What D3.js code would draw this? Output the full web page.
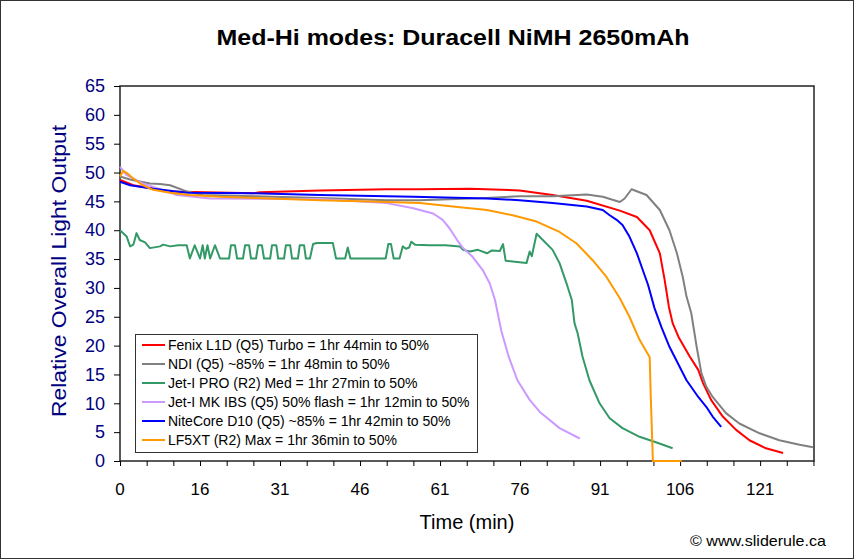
<!DOCTYPE html>
<html><head><meta charset="utf-8">
<script src="https://cdn.jsdelivr.net/npm/d3@7"></script>
<style>body{margin:0;background:#fff}svg{display:block;font-family:Arial,"Liberation Sans",sans-serif}</style>
</head><body><svg id="c" width="855" height="560"></svg>
<script>
const title = "Med-Hi modes: Duracell NiMH 2650mAh";
const xTitle = "Time (min)";
const yTitle = "Relative Overall Light Output";
const credit = "© www.sliderule.ca";
const xTickValues = [0, 15, 30, 45, 60, 75, 90, 105, 120];
const xTickLabels = ["0", "16", "31", "46", "61", "76", "91", "106", "121"];
const yTickValues = [0, 5, 10, 15, 20, 25, 30, 35, 40, 45, 50, 55, 60, 65];

const seriesNames = [
  "Fenix L1D (Q5) Turbo = 1hr 44min to 50%",
  "NDI (Q5) ~85% = 1hr 48min to 50%",
  "Jet-I PRO (R2) Med = 1hr 27min to 50%",
  "Jet-I MK IBS (Q5) 50% flash = 1hr 12min to 50%",
  "NiteCore D10 (Q5) ~85% = 1hr 42min to 50%",
  "LF5XT (R2) Max = 1hr 36min to 50%"
];
const seriesColors = ["#ff0000", "#808080", "#339966", "#cc99ff", "#0000ff", "#ff9900"];

const fenix = [[0,48.7],[2.5,47.8],[9.4,46.7],[25,46.4],[26.2,46.6],[37.5,46.9],[50,47.1],[56.2,47.1],[65.6,47.2],[74.9,46.9],[81.1,46.1],[87.5,45.1],[93.7,43.4],[96.9,42.3],[99.3,40.0],[101.2,36.0],[102.1,31.4],[102.9,26.7],[103.6,23.9],[104.7,21.5],[106.8,18.1],[108.4,15.8],[109.3,13.5],[110.8,10.6],[113.0,7.7],[115.5,5.4],[118.0,3.6],[121.1,2.2],[124.3,1.4]];
const ndi = [[0,49.3],[1.9,48.8],[5.6,48.1],[7.5,48.0],[9.4,47.8],[12.6,46.7],[15.6,46.1],[25,45.9],[37.5,45.6],[50,45.2],[56.2,45.2],[68.7,45.6],[74.9,45.9],[81.1,45.9],[87.5,46.2],[90.5,45.8],[93.7,44.9],[94.6,45.5],[95.9,47.1],[98.7,46.1],[101.2,43.5],[103.0,40.0],[104.4,36.0],[105.5,31.9],[106.2,28.5],[107.1,25.6],[108.1,19.8],[109.0,15.2],[109.9,12.9],[111.1,11.1],[113.6,8.3],[116.1,6.5],[119.9,4.8],[123.6,3.6],[127.4,2.8],[129.9,2.4]];
const jetPro = [[0,40.0],[1.25,38.9],[1.9,37.2],[2.5,37.5],[3.1,39.5],[3.7,38.3],[4.7,37.9],[5.6,36.9],[7.5,37.2],[8.1,37.5],[9.4,37.2],[10.9,37.4],[12.5,37.4],[13.1,35.1],[14.0,37.4],[15.0,35.1],[15.5,37.4],[15.9,35.1],[16.4,37.4],[16.9,35.1],[17.8,37.4],[18.75,35.1],
  [20.45,35.1],[20.8,37.4],[21.55,37.4],[21.95,35.1],[23.05,35.1],[23.45,37.4],[24.2,37.4],[24.55,35.1],[25.5,35.1],[25.9,37.4],[26.6,37.4],[27.0,35.1],[28.15,35.1],[28.5,37.4],[29.3,37.4],[29.65,35.1],[30.75,35.1],[31.1,37.4],[31.9,37.4],[32.25,35.1],[33.35,35.1],[33.7,37.4],[34.5,37.4],[34.85,35.1],
  [35.6,35.1],[36.2,37.6],[36.9,37.8],[39.9,37.8],[40.5,35.1],[42.2,35.1],[42.7,37.0],[43.2,35.1],[49.8,35.1],[50.3,37.6],[50.8,37.6],[51.3,35.1],[52.4,35.1],[53.0,37.2],[53.6,36.8],[54.2,37.0],[54.6,38.0],[55.3,37.5],[58,37.4],[61,37.4],[63.7,37.2],[64.3,36.6],[65.6,36.3],[67.1,36.6],[68.8,36.0],[69.7,36.5],[71.2,36.4],[71.8,37.6],[72.3,34.7],[76.2,34.3],[76.8,36.3],[77.2,35.5],[78.1,39.4],[81.1,36.6],[82.4,34.3],[83.7,30.8],[84.7,27.9],[85.2,23.9],[85.8,22.1],[86.7,18.1],[88.0,14.0],[89.9,10.0],[91.8,7.4],[94.2,5.7],[97.4,4.2],[100.6,3.2],[103.6,2.2]];
const jetMk = [[0,51.0],[1.2,49.6],[4.3,48.1],[10.7,46.1],[16.9,45.5],[37.5,45.4],[50,44.7],[55,43.8],[56.2,43.5],[58.7,42.9],[60.5,41.8],[61.8,40.3],[63.2,38.3],[64.3,36.9],[66.1,35.4],[68.0,33.1],[69.3,30.8],[70.3,27.9],[71.5,22.5],[72.9,18.0],[74.5,14.0],[76.8,10.6],[78.7,8.5],[82.4,5.7],[86.2,3.9]];
const nitecore = [[0,48.4],[1.9,47.8],[6.2,47.2],[12.6,46.5],[25,46.4],[37.5,46.1],[55,45.8],[68.8,45.5],[74.9,45.2],[81.1,44.7],[87.5,44.1],[90.5,43.5],[91.8,42.6],[93.1,41.8],[94.2,40.9],[95.5,38.9],[96.9,36.0],[98.0,33.1],[99.0,30.5],[100.2,26.5],[101.5,23.2],[103.0,19.8],[104.6,16.9],[106.2,14.0],[108.4,11.1],[109.9,9.4],[111.1,7.7],[112.7,5.9]];
const lf5xt = [[0,49.3],[0.6,50.3],[1.3,49.9],[2.4,49.0],[4.3,47.8],[6.2,47.0],[9.4,46.5],[13.1,46.1],[18.7,45.8],[28.1,45.5],[37.5,45.2],[46.8,45.0],[56.2,44.7],[62.4,44.1],[68.8,43.5],[73.6,42.6],[78.1,41.5],[82.4,39.7],[85.6,37.7],[88.6,34.8],[91.2,31.9],[93.7,28.2],[95.5,25.0],[97.4,21.0],[99.3,18.0],[99.5,11.1],[99.9,0],[105.3,0]];
const seriesData = [fenix, ndi, jetPro, jetMk, nitecore, lf5xt];

const svg = d3.select("#c");
const L = 120, R = 814, T = 86, B = 461;
const x = d3.scaleLinear().domain([0, 130.1]).range([L, R]);
const y = d3.scaleLinear().domain([0, 65]).range([B, T]);

svg.append("rect").attr("x",0.5).attr("y",0.5).attr("width",853).attr("height",558)
  .attr("fill","#fff").attr("stroke","#333");

svg.append("text").attr("x",453).attr("y",45).attr("text-anchor","middle")
  .attr("font-size",22).attr("font-weight","bold").attr("textLength",473).attr("lengthAdjust","spacingAndGlyphs").text(title);

// frame
svg.append("rect").attr("x",L).attr("y",T).attr("width",R-L).attr("height",B-T)
  .attr("fill","#fff").attr("stroke","#222").attr("stroke-width",1.5);

// y axis
const ya = svg.append("g").attr("transform",`translate(${L},0)`)
  .call(d3.axisLeft(y).tickValues(yTickValues).tickSize(6).tickPadding(9).tickSizeOuter(0));
ya.select(".domain").remove();
ya.selectAll("line").attr("stroke","#000");
ya.selectAll("text").attr("fill","#000080").attr("font-size",18).attr("font-family","Arial,'Liberation Sans',sans-serif");

// x axis
const xa = svg.append("g").attr("transform",`translate(0,${B})`)
  .call(d3.axisBottom(x).tickValues(d3.range(0,131,5)).tickSize(5).tickFormat(""));
xa.select(".domain").remove();
xa.selectAll("line").attr("stroke","#000");
svg.append("g").selectAll("text").data(xTickValues).join("text")
  .attr("x",d=>x(d)).attr("y",495).attr("text-anchor","middle").attr("font-size",17)
  .text((d,i)=>xTickLabels[i]);

const line = d3.line().x(d=>x(d[0])).y(d=>y(d[1]));
svg.append("g").attr("fill","none").attr("stroke-width",2).attr("stroke-linejoin","round")
  .selectAll("path").data(seriesData).join("path")
  .attr("stroke",(d,i)=>seriesColors[i]).attr("d",line);

// legend
const lg = svg.append("g");
lg.append("rect").attr("x",135.5).attr("y",334.5).attr("width",342).attr("height",118)
  .attr("fill","#fff").attr("stroke","#333");
const rows = lg.selectAll("g.row").data(seriesNames).join("g")
  .attr("transform",(d,i)=>`translate(0,${345+i*19})`);
rows.append("line").attr("x1",142).attr("x2",165).attr("stroke",(d,i)=>seriesColors[i]).attr("stroke-width",2);
rows.append("text").attr("x",168).attr("dy","0.36em").attr("font-size",14).text(d=>d);

svg.append("text").attr("transform","translate(66,271) rotate(-90)").attr("text-anchor","middle")
  .attr("fill","#000080").attr("font-size",20).attr("textLength",292).attr("lengthAdjust","spacingAndGlyphs").text(yTitle);
svg.append("text").attr("x",467).attr("y",529).attr("text-anchor","middle").attr("font-size",20).text(xTitle);
svg.append("text").attr("x",826).attr("y",546).attr("text-anchor","end").attr("font-size",15)
  .attr("textLength",136).attr("lengthAdjust","spacingAndGlyphs").text(credit);
</script></body></html>
